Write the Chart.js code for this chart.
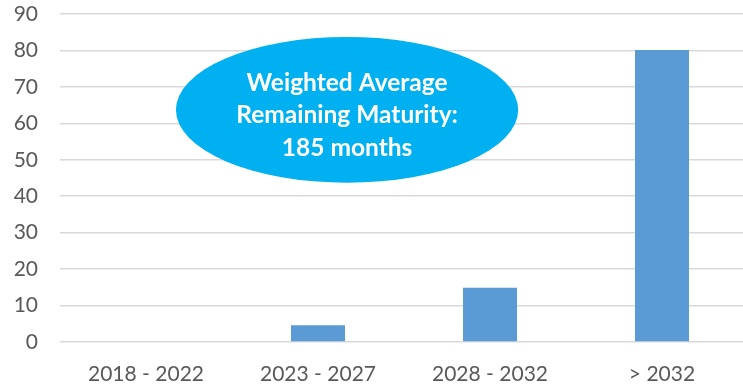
<!DOCTYPE html>
<html>
<head>
<meta charset="utf-8">
<script src="https://cdn.jsdelivr.net/npm/chart.js@4/dist/chart.umd.min.js"></script>
<style>
  html, body { margin: 0; padding: 0; background: #ffffff; overflow: hidden; }
  canvas { display: block; }
</style>
</head>
<body>
<canvas id="chart" width="750" height="387"></canvas>
<script>
// Remaining maturity buckets and their share (%)
const categories = ['2018 - 2022', '2023 - 2027', '2028 - 2032', '> 2032'];
const shares = [0, 4.6, 14.9, 80.1];
const calloutLines = ['Weighted Average', 'Remaining Maturity:', '185 months'];

// Blue ellipse callout with the weighted average maturity
const calloutPlugin = {
  id: 'callout',
  afterDatasetsDraw(chart) {
    const { ctx, scales: { x, y } } = chart;
    const cx = x.getPixelForValue(1.169);
    const cy = y.getPixelForValue(63.7);
    const rx = x.getPixelForValue(1) - x.getPixelForValue(0);
    const ry = y.getPixelForValue(0) - y.getPixelForValue(20);
    ctx.save();
    ctx.beginPath();
    ctx.ellipse(cx, cy, rx * 0.995, ry, 0, 0, Math.PI * 2);
    ctx.fillStyle = '#00B0F0';
    ctx.fill();
    ctx.fillStyle = '#ffffff';
    ctx.font = 'bold 24.5px Lato';
    ctx.textAlign = 'center';
    ctx.textBaseline = 'middle';
    const gap = 32.5;
    calloutLines.forEach((t, i) => {
      ctx.fillText(t, cx, cy - 27 + i * gap);
    });
    ctx.restore();
  }
};

new Chart(document.getElementById('chart'), {
  type: 'bar',
  data: {
    labels: categories,
    datasets: [{
      data: shares,
      backgroundColor: '#5B9BD5',
      borderWidth: 0,
      categoryPercentage: 1,
      barPercentage: 0.314
    }]
  },
  options: {
    responsive: false,
    animation: false,
    layout: { padding: { top: 14, right: 2, left: 14, bottom: 2 } },
    plugins: { legend: { display: false }, tooltip: { enabled: false } },
    scales: {
      x: {
        grid: { display: false },
        border: { display: false },
        ticks: { color: '#595959', font: { family: 'Lato', size: 21 }, padding: 12 },
        afterFit(scale) { scale.height = 43; scale.paddingLeft = 0; scale.paddingRight = 0; }
      },
      y: {
        min: 0, max: 90,
        ticks: { stepSize: 10, color: '#595959', font: { family: 'Lato', size: 21 }, padding: 22 },
        grid: { color: '#d9d9d9', lineWidth: 1.5, drawTicks: false },
        border: { display: false },
        afterFit(scale) { scale.width = 46; scale.paddingTop = 0; scale.paddingBottom = 0; }
      }
    }
  },
  plugins: [calloutPlugin]
});
</script>
</body>
</html>
